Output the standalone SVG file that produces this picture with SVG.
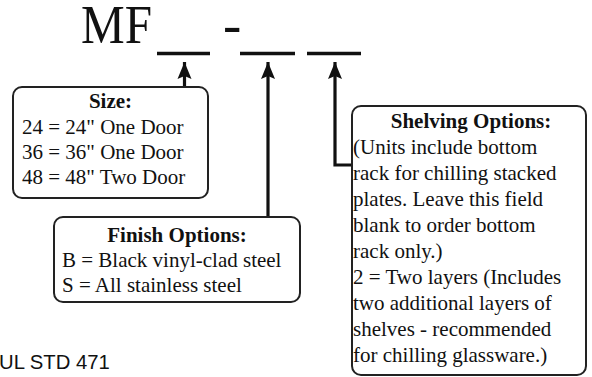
<svg xmlns="http://www.w3.org/2000/svg" width="592" height="377" viewBox="0 0 592 377">
<defs>
<style>
.box{fill:#fff;stroke:#222;stroke-width:2}
.t{font-family:"Liberation Serif","Times New Roman",serif;font-size:21px;fill:#111}
.h{font-family:"Liberation Serif","Times New Roman",serif;font-size:21px;font-weight:bold;fill:#111;text-anchor:middle}
.big{font-family:"Liberation Serif","Times New Roman",serif;font-size:55px;fill:#111}
.ln{stroke:#111;stroke-width:3.2;fill:none}
.ul{stroke:#111;stroke-width:3.3}
</style>
<marker id="ah" markerUnits="userSpaceOnUse" markerWidth="18" markerHeight="14" refX="17" refY="7" orient="auto" viewBox="0 0 18 14" overflow="visible">
<path d="M0,0 L17,7 L0,14 L3,7 Z" fill="#111"/>
</marker>
</defs>
<rect width="592" height="377" fill="#fff"/>
<g id="title">
<text class="big" x="81" y="43" textLength="71" lengthAdjust="spacingAndGlyphs">MF</text>
<text class="big" x="223" y="43">-</text>
<line class="ul" x1="157" y1="53.5" x2="210" y2="53.5"/>
<line class="ul" x1="240" y1="53.5" x2="295" y2="53.5"/>
<line class="ul" x1="307" y1="53.5" x2="361" y2="53.5"/>
</g>
<g id="connectors">
<path class="ln" d="M184.5,87 V62" marker-end="url(#ah)"/>
<path class="ln" d="M268,217 V62" marker-end="url(#ah)"/>
<path class="ln" d="M352,165 H335 V62" marker-end="url(#ah)"/>
</g>
<g id="size">
<rect class="box" x="13" y="87" width="195" height="111" rx="9"/>
<text class="h" x="110.5" y="108">Size:</text>
<text class="t" x="22" y="134">24 = 24" One Door</text>
<text class="t" x="22" y="159">36 = 36" One Door</text>
<text class="t" x="22" y="184">48 = 48" Two Door</text>
</g>
<g id="finish">
<rect class="box" x="54" y="217" width="246" height="85" rx="9"/>
<text class="h" x="177" y="242">Finish Options:</text>
<text class="t" x="62" y="267">B = Black vinyl-clad steel</text>
<text class="t" x="62" y="292">S = All stainless steel</text>
</g>
<g id="shelving">
<rect class="box" x="352" y="106" width="234" height="269" rx="9"/>
<text class="h" x="471" y="128">Shelving Options:</text>
<text class="t" x="353" y="154">(Units include bottom</text>
<text class="t" x="353" y="180">rack for chilling stacked</text>
<text class="t" x="353" y="206">plates. Leave this field</text>
<text class="t" x="353" y="232">blank to order bottom</text>
<text class="t" x="353" y="258">rack only.)</text>
<text class="t" x="353" y="284">2 = Two layers (Includes</text>
<text class="t" x="353" y="310">two additional layers of</text>
<text class="t" x="353" y="336">shelves - recommended</text>
<text class="t" x="353" y="362">for chilling glassware.)</text>
</g>
<text x="-1" y="369" font-family="'Liberation Sans',Arial,sans-serif" font-size="20.3" fill="#111">UL STD 471</text>
</svg>
